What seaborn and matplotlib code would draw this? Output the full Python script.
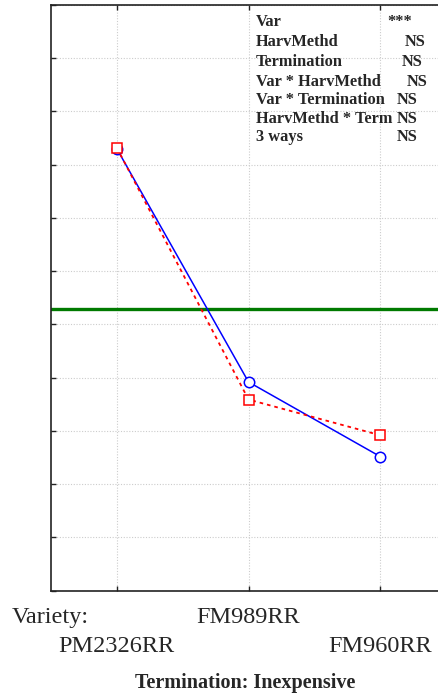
import matplotlib
matplotlib.use("Agg")
import matplotlib.pyplot as plt
import matplotlib.transforms as mtransforms
import numpy as np
import pandas as pd
import seaborn as sns

# Mean response by variety for the two harvest methods (Termination: Inexpensive)
varieties = ["PM2326RR", "FM989RR", "FM960RR"]
harv_a = [8.30, 3.92, 2.52]   # blue, solid, circles
harv_b = [8.32, 3.59, 2.92]   # red, dotted, squares
overall_mean = 5.29

# ANOVA summary
effects = ["Var", "HarvMethd", "Termination", "Var * HarvMethd",
           "Var * Termination", "HarvMethd * Term", "3 ways"]
signif = ["***", "NS", "NS", "NS", "NS", "NS", "NS"]

sns.set_theme(style="ticks")
plt.rcParams["font.family"] = ["Liberation Serif", "DejaVu Serif"]

W, H = 438, 700
fig = plt.figure(figsize=(W / 100, H / 100), dpi=100)
ax_left, ax_right, ax_top, ax_bot = 51, 446, 5, 590.7
ax = fig.add_axes([ax_left / W, 1 - ax_bot / H,
                   (ax_right - ax_left) / W, (ax_bot - ax_top) / H])

df = pd.DataFrame({
    "x": list(range(len(varieties))) * 2,
    "y": harv_a + harv_b,
    "series": ["A"] * len(varieties) + ["B"] * len(varieties),
})

sns.lineplot(data=df[df.series == "A"], x="x", y="y", ax=ax, color="#0000ff",
             linewidth=1.1, marker="o", markersize=7.5, markerfacecolor="white",
             markeredgecolor="#0000ff", markeredgewidth=1.1, zorder=3)
sns.lineplot(data=df[df.series == "B"], x="x", y="y", ax=ax, color="#ff0000",
             linewidth=1.3, linestyle=(0, (2, 2.2)), marker="s", markersize=7.5,
             markerfacecolor="white", markeredgecolor="#ff0000",
             markeredgewidth=1.1, zorder=4)
ax.axhline(overall_mean, color="#007a00", linewidth=2.4, zorder=2)

ax.set_xlim(-0.5, 2.5)
ax.set_ylim(0, 11)
ax.set_xticks(range(len(varieties)))
ax.set_yticks(np.arange(0, 12, 1))
ax.set_xticklabels([])
ax.set_yticklabels([])
ax.set_xlabel("")
ax.set_ylabel("")
ax.grid(True, color="#cccccc", linestyle=(0, (1, 1.5)), linewidth=0.8)
ax.tick_params(direction="in", length=3.5, width=1.0, color="#222222",
               top=True, right=False)
for s in ax.spines.values():
    s.set_color("#222222")
    s.set_linewidth(1.2)

# ANOVA summary block in the upper right
fig_px = mtransforms.Affine2D().scale(1 / W, -1 / H).translate(0, 1) + fig.transFigure
baselines = [26, 46.5, 66, 86, 104, 123.3, 141]
ns_x = [387, 405, 401.5, 406.5, 396.5, 396.5, 396.5]
for name, sig, yb, xs in zip(effects, signif, baselines, ns_x):
    fig.text(256, yb, name, transform=fig_px, fontsize=11.8, fontweight="bold",
             va="baseline", ha="left")
    fig.text(xs, yb, sig, transform=fig_px, fontsize=11.8, fontweight="bold",
             va="baseline", ha="left")

# Staggered variety labels under the axis
lab_tr = mtransforms.blended_transform_factory(ax.transData, fig_px)
rows = [652, 623, 652]
for i, (v, yb) in enumerate(zip(varieties, rows)):
    ax.text(i, yb, v, transform=lab_tr, fontsize=17.5, ha="center",
            va="baseline", clip_on=False)
fig.text(12, 623, "Variety:", transform=fig_px, fontsize=17.5, ha="left",
         va="baseline")
fig.text(245, 688, "Termination: Inexpensive", transform=fig_px, fontsize=14.5,
         fontweight="bold", ha="center", va="baseline")

fig.savefig("out.png", dpi=100)
